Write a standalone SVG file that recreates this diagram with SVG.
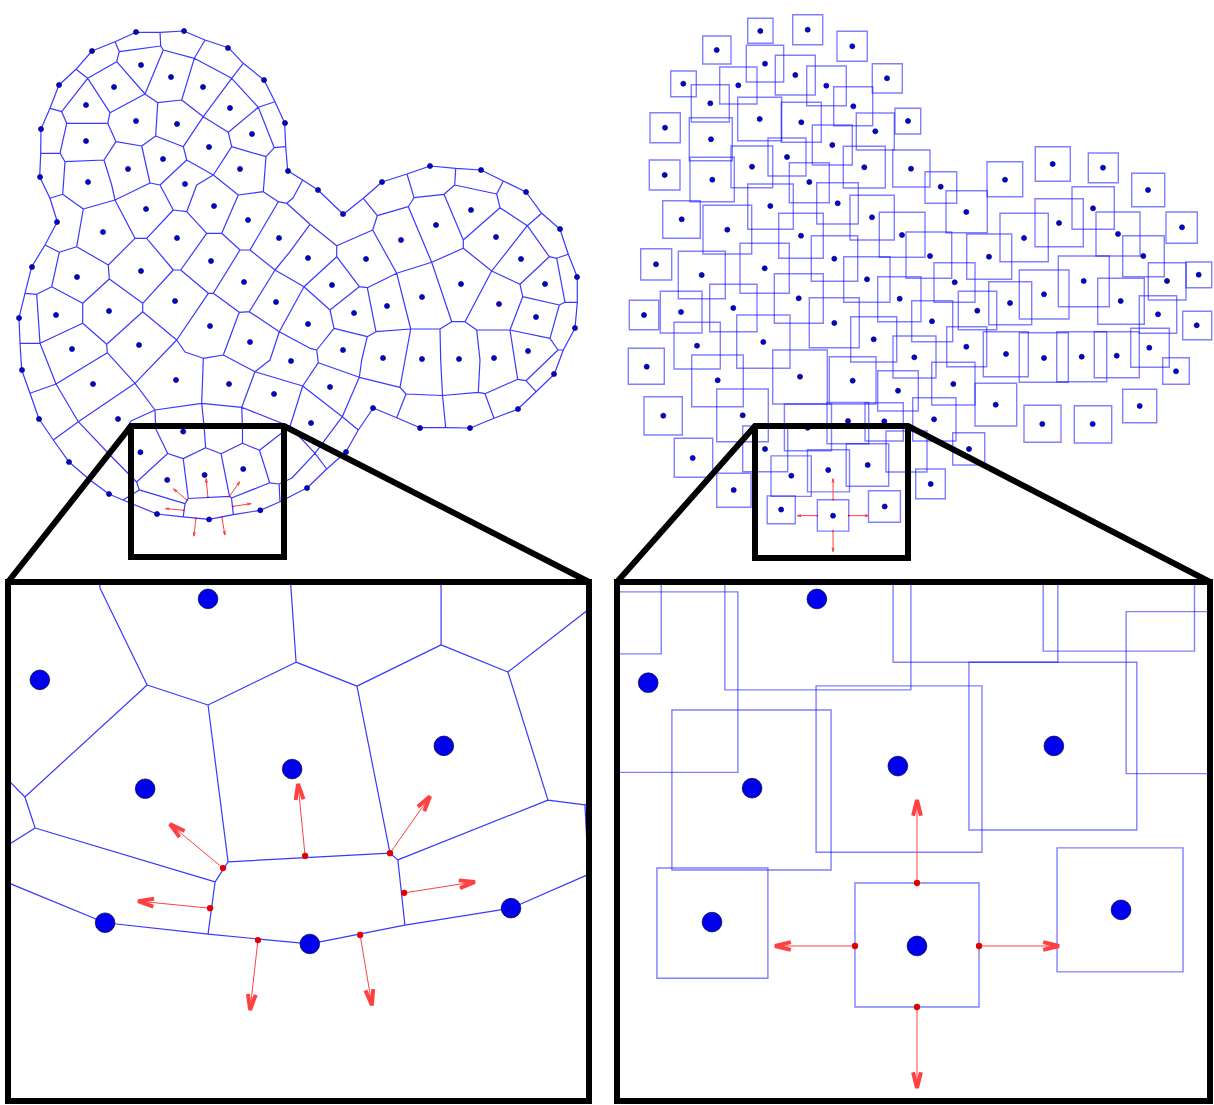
<svg xmlns="http://www.w3.org/2000/svg" xmlns:xlink="http://www.w3.org/1999/xlink" width="1214" height="1105" viewBox="0 0 1214 1105">
<style>
.vl{fill:none;stroke:#3838ff;stroke-width:1.2;stroke-linejoin:round;vector-effect:non-scaling-stroke}
.d{fill:#0000ee;stroke:#00003a;stroke-width:0.7;vector-effect:non-scaling-stroke}
.q{fill:none;stroke:#0000ff;stroke-opacity:0.5;stroke-width:1.4;vector-effect:non-scaling-stroke}
.ra{fill:none;stroke:#ff4040;stroke-width:1;vector-effect:non-scaling-stroke;marker-end:url(#ah)}
.rd{fill:#e00000}
.fr{fill:none;stroke:#000;stroke-width:6;stroke-linejoin:miter}
</style>
<defs>
<marker id="ah" markerUnits="userSpaceOnUse" markerWidth="6" markerHeight="4" refX="4" refY="1" orient="auto" overflow="visible">
<path d="M0,0 L4,1 L0,2" fill="none" stroke="#ff4040" stroke-width="1" vector-effect="non-scaling-stroke"/>
</marker>
<clipPath id="clipL"><rect x="8" y="582" width="581" height="519"/></clipPath>
<clipPath id="clipR"><rect x="617" y="582" width="593" height="519"/></clipPath>
<g id="vorL">
<path class="vl" d="M136 32.3L160 32.3L183.7 31L205 40L228.3 47.7L243.3 63.3L264 80L275 101.7L284.7 123L285.7 146.7L287.7 170.7L302.7 180L318 190L343.3 214.3L363.3 198.3L382 182L407 174L430 166L455.7 168.3L481 170L503.3 181L526 192L541.7 213.3L560 229.3L568.3 254.3L577.3 277.3L577.3 302.3L575 328.3L563.3 350L554.3 374.3L536 391.7L517.7 409.3L494 418.3L470.3 428L445.7 427.7L420 427.7L396.7 417.7L373.3 408L358.3 430L345.7 452.3L326.7 469L307.3 487.7L280 501.7L260.3 510.3L233.3 514.6L209.1 519.4L183.2 516.9L157 514L123 500L109.3 494.3L90 480L68.7 461.7L53.3 440L39 419L30 393.3L21.7 370L20 343.3L19 317.7L25 293.3L31.7 266.7L45 245L57.3 221.7L50 198.3L39.7 177L40.7 153.3L41 129L50 108.3L59 85L76 69.3L92 51L115 41.7Z"/>
<path class="vl" d="M115 41.7L119.3 51.7L160.7 46L160 32.3M160.7 46L163.3 50L194.3 58.3L205 40M194.3 58.3L231.7 78.3L243.3 63.3M231.7 78.3L258.3 107.3L275 101.7M258.3 107.3L274.3 147.7L285.7 146.7M274.3 147.7L266 156.7L263.3 191.7M76 69.3L87.7 78.3L116.7 61.7L119.3 51.7M116.7 61.7L145 94L163.3 50M145 94L157.7 102.7L181.7 100L194.3 58.3M87.7 78.3L110 112.7L145 94M50 108.3L61.7 111.7L87.7 78.3M61.7 111.7L66.7 123.3L107.7 123.3L110 112.7M107.7 123.3L116 141.7L141.7 146L155.7 136L157.7 102.7M155.7 136L183.3 146.7L203.3 116.7L181.7 100M203.3 116.7L231.7 78.3M203.3 116.7L228.3 132.3L258.3 107.3M228.3 132.3L231.7 146.7L266 156.7M183.3 146.7L186.7 160L213.3 175L231.7 146.7M66.7 123.3L60 153.3L40.7 153.3M60 153.3L65 161.7L104 160L116 141.7M141.7 146L150 183L160 185L186.7 160M104 160L111.7 185L115 200L150 183M65 161.7L62.7 194.3L50 198.3M62.7 194.3L83.3 209L115 200L135 238.3L146.7 238.3L173.3 210L186.7 211.7L206.7 233.3L221.7 233.3L238.3 195L263.3 191.7L278.3 201.7L286.7 203.3L310 224.3L336.7 245.7M173.3 210L160 185M186.7 211.7L196.7 185L213.3 175L238.3 195M286.7 203.3L293 198L302.7 180M278.3 201.7L250 250M83.3 209L76.7 246.7L59.3 252.3L45 245M76.7 246.7L108.3 265L135 238.3M108.3 265L109.3 279L82.7 303.3L51.7 286.7L59.3 252.3M51.7 286.7L36.7 294.3L25 293.3M36.7 294.3L40 343.3L20 343.3M40 343.3L82.7 323.3L82.7 303.3M82.7 323.3L106.7 344.3L142.7 311.7L142.7 303.3L109.3 279M142.7 303.3L173.3 270L146.7 238.3M173.3 270L180.7 270L206.7 233.3M180.7 270L208.3 293.3L213.3 293.3L240 250L221.7 233.3M240 250L250 250L275 270L304 286.7M275 270L249.3 311.7L239.3 312.3L213.3 293.3M239.3 312.3L223.3 355M249.3 311.7L279.3 331.7L310 348.3L316.7 350M279.3 331.7L270 360M279.3 331.7L304 286.7M208.3 293.3L176.7 340L142.7 311.7M176.7 340L185 352L203.3 358.3L223.3 355L255 371.7L270 360M106.7 344.3L107.3 352.7M310 224.3L290 251.7L275 270M30 393.3L56 384L40 343.3M56 384L107.3 352.7L135 383.3L176.7 340M135 383.3L78.3 421.7L56 384M78.3 421.7L53.3 440M78.3 421.7L110 455L136.6 482L139.2 489.9L185 503.6M110 455L90 480M139.2 489.9L123 500M110 455L131 421L155 410M135 383.3L155 410L201.7 403.3L203.3 358.3M201.7 403.3L241.7 407.3L255 371.7M255 371.7L302.7 386M155 410L155.7 428.8L167.7 453.5L136.6 482M167.7 453.5L183.2 458.6L205.6 447.7L204.3 428.8L201.7 403.3M205.6 447.7L221.1 453.8L242.5 443.3L242.5 428.8L241.7 407.3M242.5 443.3L259.5 450.2L279.1 435L290 426.5M241.7 407.3L290 426.5L302.7 386M290 426.5L315 453.3L326.7 469M315 453.3L292 478L279.1 484L269.7 482.8L259.5 450.2M221.1 453.8L229.5 496.3L231.5 498L269.7 482.8M231.5 498L233.3 514.6M183.2 458.6L188.3 498.5L229.5 496.3M188.3 498.5L185 503.6L183.2 516.9M279.1 484L280 501.7M302.7 386L318.3 362.7L359.3 377.3L342.3 416.7L302.7 386M342.3 416.7L358.3 430M342.3 416.7L315 453.3M316.7 350L318.3 362.7M367.3 336.7L361.7 360L359.3 377.3M359.3 377.3L400 387.3L406 394L442.5 395.5L478.3 392.3L485 393.7L517.7 379.3L526 380.7L536 391.7M410.7 329L405 360L400 387.3M406 394L396.7 417.7M440 329L440.7 360L442.5 395.5L445.7 427.7M476.7 330L480 360L478.3 392.3M485 393.7L494 418.3M510 330L517.7 379.3M526 380.7L558 350L550 338.3M558 350L563.3 350M407 174L414 197.7L408.3 206.7L377.3 215.7L363.3 198.3M414 197.7L444 194.3L454.7 185L455.7 168.3M454.7 185L496.7 194L503.3 181M496.7 194L500 207.7M444 194.3L463.3 240L463.3 248.3M463.3 240L500 207.7L527.3 225.7L541.7 213.3M527.3 225.7L549.3 256.7L556.7 258.3L568.3 254.3M556.7 258.3L565 302.3L577.3 302.3M565 302.3L559.3 305L550 338.3M549.3 256.7L520 284.3L491.7 271L463.3 248.3M491.7 271L527.3 225.7M520 284.3L522.7 296.7L559.3 305M522.7 296.7L510 330L550 338.3M491.7 271L465 321.7L451.7 321.7L431.7 262.3L463.3 248.3M431.7 262.3L396.7 273.3L372.7 230L377.3 215.7M408.3 206.7L431.7 262.3M372.7 230L336.7 245.7L336.7 256.7L304 286.7M336.7 256.7L359.3 286.7L367.3 287.7L396.7 273.3M367.3 287.7L376 331.7M396.7 273.3L410.7 329L440 329L451.7 321.7M465 321.7L476.7 330L510 330M359.3 286.7L330 310L304 286.7M330 310L334 328.3L316.7 350M334 328.3L367.3 336.7L376 331.7L410.7 329"/>
<g>
<circle class="d" r="2.5" cx="136" cy="32"/><circle class="d" r="2.5" cx="184" cy="31"/><circle class="d" r="2.5" cx="228" cy="48"/><circle class="d" r="2.5" cx="264" cy="80"/><circle class="d" r="2.5" cx="285" cy="123"/><circle class="d" r="2.5" cx="288" cy="171"/><circle class="d" r="2.5" cx="318" cy="190"/><circle class="d" r="2.5" cx="343" cy="214"/><circle class="d" r="2.5" cx="382" cy="182"/><circle class="d" r="2.5" cx="430" cy="166"/><circle class="d" r="2.5" cx="481" cy="170"/><circle class="d" r="2.5" cx="526" cy="192"/><circle class="d" r="2.5" cx="560" cy="229"/><circle class="d" r="2.5" cx="577" cy="277"/><circle class="d" r="2.5" cx="575" cy="328"/><circle class="d" r="2.5" cx="554" cy="374"/><circle class="d" r="2.5" cx="518" cy="409"/><circle class="d" r="2.5" cx="470" cy="428"/><circle class="d" r="2.5" cx="420" cy="428"/><circle class="d" r="2.5" cx="373" cy="408"/><circle class="d" r="2.5" cx="346" cy="452"/><circle class="d" r="2.5" cx="307" cy="488"/><circle class="d" r="2.5" cx="260.3" cy="510.3"/><circle class="d" r="2.5" cx="209.1" cy="519.4"/><circle class="d" r="2.5" cx="157" cy="514"/><circle class="d" r="2.5" cx="109" cy="494"/><circle class="d" r="2.5" cx="69" cy="462"/><circle class="d" r="2.5" cx="39" cy="419"/><circle class="d" r="2.5" cx="22" cy="370"/><circle class="d" r="2.5" cx="19" cy="318"/><circle class="d" r="2.5" cx="32" cy="267"/><circle class="d" r="2.5" cx="57" cy="222"/><circle class="d" r="2.5" cx="40" cy="177"/><circle class="d" r="2.5" cx="41" cy="129"/><circle class="d" r="2.5" cx="59" cy="85"/><circle class="d" r="2.5" cx="92" cy="51"/>
<circle class="d" r="2.5" cx="141" cy="65"/><circle class="d" r="2.5" cx="171" cy="77"/><circle class="d" r="2.5" cx="203" cy="87"/><circle class="d" r="2.5" cx="114" cy="87"/><circle class="d" r="2.5" cx="86" cy="105"/><circle class="d" r="2.5" cx="136" cy="121"/><circle class="d" r="2.5" cx="177" cy="124"/><circle class="d" r="2.5" cx="230" cy="108"/><circle class="d" r="2.5" cx="252" cy="134"/><circle class="d" r="2.5" cx="209" cy="147"/><circle class="d" r="2.5" cx="86" cy="141"/><circle class="d" r="2.5" cx="163" cy="159"/><circle class="d" r="2.5" cx="128" cy="169"/><circle class="d" r="2.5" cx="240" cy="169"/><circle class="d" r="2.5" cx="185" cy="184"/><circle class="d" r="2.5" cx="88" cy="182"/><circle class="d" r="2.5" cx="146" cy="209"/><circle class="d" r="2.5" cx="214" cy="206"/><circle class="d" r="2.5" cx="248" cy="220"/><circle class="d" r="2.5" cx="103" cy="232"/><circle class="d" r="2.5" cx="177" cy="238"/><circle class="d" r="2.5" cx="279" cy="238"/><circle class="d" r="2.5" cx="308" cy="258"/><circle class="d" r="2.5" cx="211" cy="261"/><circle class="d" r="2.5" cx="141" cy="271"/><circle class="d" r="2.5" cx="77" cy="277"/><circle class="d" r="2.5" cx="244" cy="282"/><circle class="d" r="2.5" cx="175" cy="301"/><circle class="d" r="2.5" cx="276" cy="302"/><circle class="d" r="2.5" cx="56" cy="315"/><circle class="d" r="2.5" cx="109" cy="311"/><circle class="d" r="2.5" cx="210" cy="326"/><circle class="d" r="2.5" cx="308" cy="324"/><circle class="d" r="2.5" cx="250" cy="342"/><circle class="d" r="2.5" cx="72" cy="349"/><circle class="d" r="2.5" cx="139" cy="345"/><circle class="d" r="2.5" cx="291" cy="361"/><circle class="d" r="2.5" cx="471" cy="210"/><circle class="d" r="2.5" cx="436" cy="225"/><circle class="d" r="2.5" cx="401" cy="240"/><circle class="d" r="2.5" cx="496" cy="237"/><circle class="d" r="2.5" cx="521" cy="259"/><circle class="d" r="2.5" cx="366" cy="259"/><circle class="d" r="2.5" cx="332" cy="285"/><circle class="d" r="2.5" cx="461" cy="284"/><circle class="d" r="2.5" cx="545" cy="284"/><circle class="d" r="2.5" cx="422" cy="297"/><circle class="d" r="2.5" cx="387" cy="306"/><circle class="d" r="2.5" cx="354" cy="313"/><circle class="d" r="2.5" cx="499" cy="304"/><circle class="d" r="2.5" cx="536" cy="317"/><circle class="d" r="2.5" cx="343" cy="350"/><circle class="d" r="2.5" cx="383" cy="358"/><circle class="d" r="2.5" cx="528" cy="351"/><circle class="d" r="2.5" cx="422" cy="359"/><circle class="d" r="2.5" cx="459" cy="359"/><circle class="d" r="2.5" cx="494" cy="358"/><circle class="d" r="2.5" cx="93" cy="384"/><circle class="d" r="2.5" cx="176" cy="380"/><circle class="d" r="2.5" cx="229" cy="384"/><circle class="d" r="2.5" cx="274" cy="394"/><circle class="d" r="2.5" cx="118" cy="419"/><circle class="d" r="2.5" cx="330" cy="387"/><circle class="d" r="2.5" cx="311" cy="423"/><circle class="d" r="2.5" cx="284" cy="456"/><circle class="d" r="2.5" cx="183.2" cy="431.6"/><circle class="d" r="2.5" cx="140.4" cy="452.2"/><circle class="d" r="2.5" cx="167.2" cy="479.9"/><circle class="d" r="2.5" cx="204.6" cy="474.9"/><circle class="d" r="2.5" cx="243.2" cy="469"/>
</g>
<g>
<path class="ra" d="M187 500.1L173.5 488.9"/><path class="ra" d="M207.9 497L206.1 478.7"/><path class="ra" d="M229.5 496.3L239.7 481.8"/><path class="ra" d="M183.7 510.3L165.4 508.5"/><path class="ra" d="M233.1 506.4L251.1 503.6"/><path class="ra" d="M195.9 518.4L193.9 536.2"/><path class="ra" d="M221.9 517.1L224.9 535"/>
<circle class="rd" r="0.8" cx="187" cy="500.1"/><circle class="rd" r="0.8" cx="207.9" cy="497"/><circle class="rd" r="0.8" cx="229.5" cy="496.3"/><circle class="rd" r="0.8" cx="183.7" cy="510.3"/><circle class="rd" r="0.8" cx="233.1" cy="506.4"/><circle class="rd" r="0.8" cx="195.9" cy="518.4"/><circle class="rd" r="0.8" cx="221.9" cy="517.1"/>
</g>
</g>
<g id="sqR">
<rect class="q" x="747.7" y="18.3" width="25.3" height="25"/><rect class="q" x="792.7" y="14.7" width="30" height="30"/><rect class="q" x="702.7" y="36" width="28.3" height="28"/><rect class="q" x="837" y="31.3" width="30.3" height="30"/><rect class="q" x="746.3" y="45.3" width="37.4" height="36.7"/><rect class="q" x="775.3" y="55.3" width="40" height="39.7"/><rect class="q" x="670.7" y="71" width="25.6" height="25.7"/><rect class="q" x="719.7" y="67" width="37.3" height="37"/><rect class="q" x="806.7" y="66" width="39.6" height="39.7"/><rect class="q" x="872.3" y="63.7" width="30" height="29.3"/><rect class="q" x="691.3" y="84.7" width="38" height="37.3"/><rect class="q" x="833.7" y="86.7" width="39" height="39"/><rect class="q" x="737.7" y="97.3" width="44" height="43.4"/><rect class="q" x="781.3" y="102.3" width="40" height="40"/><rect class="q" x="650" y="112.7" width="30.3" height="30"/><rect class="q" x="895" y="108.3" width="25.7" height="25.7"/><rect class="q" x="856.3" y="113" width="38" height="37"/><rect class="q" x="689.3" y="117.7" width="43" height="43"/><rect class="q" x="812.3" y="125" width="40" height="40"/><rect class="q" x="768" y="138" width="38" height="38"/><rect class="q" x="731" y="146" width="41.7" height="41.7"/><rect class="q" x="843.3" y="146.3" width="42" height="41.7"/><rect class="q" x="649.3" y="160" width="30.7" height="30"/><rect class="q" x="690" y="157.3" width="44.3" height="44.4"/><rect class="q" x="789.3" y="162.7" width="40" height="40"/><rect class="q" x="892.7" y="150" width="37.3" height="37"/><rect class="q" x="1035.3" y="146.7" width="35" height="34.6"/><rect class="q" x="1088.3" y="153" width="30" height="29.7"/><rect class="q" x="987" y="161.7" width="35.7" height="35"/><rect class="q" x="1131.7" y="173.3" width="33" height="33.4"/><rect class="q" x="925" y="171.7" width="31.7" height="31.6"/><rect class="q" x="662.7" y="200.7" width="37.6" height="37.6"/><rect class="q" x="703" y="205.3" width="48.7" height="48.7"/><rect class="q" x="747.7" y="184" width="45.6" height="45.3"/><rect class="q" x="816.7" y="182.7" width="41.6" height="41.3"/><rect class="q" x="850" y="195.3" width="44.3" height="44.7"/><rect class="q" x="778.7" y="213.3" width="44.6" height="45"/><rect class="q" x="879.3" y="212.3" width="45.7" height="45"/><rect class="q" x="640.7" y="248.7" width="31" height="31.3"/><rect class="q" x="678.3" y="251.3" width="47" height="47.4"/><rect class="q" x="740" y="243.3" width="49.3" height="50"/><rect class="q" x="811.3" y="235.7" width="46.4" height="45.6"/><rect class="q" x="843.7" y="256.7" width="46.3" height="45.6"/><rect class="q" x="877.7" y="276.7" width="43.3" height="45"/><rect class="q" x="629.3" y="300.3" width="29.4" height="29.4"/><rect class="q" x="660.3" y="291.3" width="41.7" height="41.7"/><rect class="q" x="709.7" y="284.3" width="47.3" height="47.4"/><rect class="q" x="774.3" y="273.7" width="49" height="49.6"/><rect class="q" x="809.3" y="297.7" width="50" height="50"/><rect class="q" x="850.7" y="316.7" width="46" height="45.3"/><rect class="q" x="674" y="322.3" width="46.3" height="46.7"/><rect class="q" x="736.7" y="315" width="53.3" height="53.3"/><rect class="q" x="628.3" y="348.3" width="36" height="36"/><rect class="q" x="946" y="190.7" width="41.3" height="42"/><rect class="q" x="1072" y="186.7" width="42.3" height="42.6"/><rect class="q" x="1035" y="198.7" width="48.3" height="48"/><rect class="q" x="1000" y="213.3" width="48.3" height="48.4"/><rect class="q" x="1166" y="212" width="31.3" height="31.3"/><rect class="q" x="1096" y="212" width="44" height="44"/><rect class="q" x="906" y="232" width="45.7" height="46.3"/><rect class="q" x="966.7" y="234" width="45" height="45.3"/><rect class="q" x="1122.7" y="235.7" width="41.6" height="41"/><rect class="q" x="1058.3" y="256" width="51" height="50.7"/><rect class="q" x="934" y="262.7" width="41" height="39.6"/><rect class="q" x="1019.3" y="270" width="49.7" height="49"/><rect class="q" x="1148.3" y="262.7" width="37.7" height="37.3"/><rect class="q" x="1186" y="262" width="25.7" height="25.7"/><rect class="q" x="988.7" y="281.7" width="43" height="43"/><rect class="q" x="1097.7" y="278.3" width="46.6" height="46"/><rect class="q" x="958.3" y="291.3" width="38.4" height="38.4"/><rect class="q" x="911.7" y="300.7" width="41" height="41"/><rect class="q" x="1139.3" y="295.7" width="37.4" height="37.6"/><rect class="q" x="1182.7" y="311.3" width="29" height="28.4"/><rect class="q" x="946.7" y="326.7" width="40" height="40"/><rect class="q" x="983.3" y="331.7" width="45" height="45"/><rect class="q" x="1019.3" y="332.7" width="49" height="49.6"/><rect class="q" x="1056.7" y="331.7" width="50" height="50"/><rect class="q" x="1094.3" y="331.7" width="45" height="46"/><rect class="q" x="1130.7" y="328.3" width="38.6" height="39"/><rect class="q" x="1162.7" y="357.7" width="26.6" height="26.6"/><rect class="q" x="931.7" y="362.3" width="43.3" height="42.7"/><rect class="q" x="975" y="383.3" width="41.7" height="42.7"/><rect class="q" x="1024" y="405.3" width="37" height="37"/><rect class="q" x="1074.3" y="405.7" width="37.4" height="37.3"/><rect class="q" x="1122.7" y="389.3" width="34" height="33.4"/><rect class="q" x="912.7" y="397.7" width="43.3" height="43.3"/><rect class="q" x="952.7" y="432.7" width="32" height="32.3"/><rect class="q" x="915.7" y="469" width="29.6" height="29.7"/><rect class="q" x="893" y="336" width="43" height="42"/><rect class="q" x="691.7" y="355" width="51.6" height="51.7"/><rect class="q" x="644" y="396.7" width="38.3" height="38.3"/><rect class="q" x="716.7" y="389" width="51.6" height="52.7"/><rect class="q" x="772.7" y="350" width="54.6" height="54"/><rect class="q" x="829.3" y="356.7" width="46.7" height="47.3"/><rect class="q" x="877.7" y="370.7" width="40.6" height="40.3"/><rect class="q" x="674.3" y="438.3" width="38.4" height="39"/><rect class="q" x="742.7" y="426" width="45" height="45.7"/><rect class="q" x="784.4" y="404" width="47.1" height="46.8"/><rect class="q" x="827" y="402.5" width="41.7" height="41.3"/><rect class="q" x="865" y="402.7" width="38.3" height="38.3"/><rect class="q" x="716.7" y="473.3" width="34.3" height="34"/><rect class="q" x="771" y="455.9" width="40.3" height="40.5"/><rect class="q" x="807.5" y="449.8" width="42" height="42.1"/><rect class="q" x="846.2" y="443.8" width="42.5" height="42.5"/><rect class="q" x="767.2" y="495.9" width="28.1" height="27.9"/><rect class="q" x="817.35" y="499.7" width="31.4" height="31.4"/><rect class="q" x="868.5" y="490.8" width="31.9" height="31.4"/><rect class="q" x="886" y="431" width="41" height="41"/>
<circle class="d" r="2.5" cx="760.3" cy="31"/><circle class="d" r="2.5" cx="807.7" cy="29.7"/><circle class="d" r="2.5" cx="716.7" cy="50"/><circle class="d" r="2.5" cx="852.3" cy="46.3"/><circle class="d" r="2.5" cx="765" cy="63.7"/><circle class="d" r="2.5" cx="795.3" cy="75"/><circle class="d" r="2.5" cx="683.3" cy="83.7"/><circle class="d" r="2.5" cx="738.3" cy="85.3"/><circle class="d" r="2.5" cx="826.3" cy="85.7"/><circle class="d" r="2.5" cx="887" cy="78.3"/><circle class="d" r="2.5" cx="710.3" cy="103.3"/><circle class="d" r="2.5" cx="853.3" cy="106.3"/><circle class="d" r="2.5" cx="759.7" cy="119"/><circle class="d" r="2.5" cx="801.3" cy="122.3"/><circle class="d" r="2.5" cx="665" cy="127.7"/><circle class="d" r="2.5" cx="908" cy="121"/><circle class="d" r="2.5" cx="875.3" cy="131.3"/><circle class="d" r="2.5" cx="711" cy="139.3"/><circle class="d" r="2.5" cx="832.3" cy="145"/><circle class="d" r="2.5" cx="787" cy="157"/><circle class="d" r="2.5" cx="752" cy="166.7"/><circle class="d" r="2.5" cx="864.3" cy="167.3"/><circle class="d" r="2.5" cx="664.7" cy="175"/><circle class="d" r="2.5" cx="712.3" cy="179.7"/><circle class="d" r="2.5" cx="809.3" cy="182"/><circle class="d" r="2.5" cx="911" cy="168.7"/><circle class="d" r="2.5" cx="1052.7" cy="164"/><circle class="d" r="2.5" cx="1103" cy="167.7"/><circle class="d" r="2.5" cx="1005" cy="179.7"/><circle class="d" r="2.5" cx="1148" cy="190"/><circle class="d" r="2.5" cx="940.7" cy="186.7"/><circle class="d" r="2.5" cx="681.7" cy="219.3"/><circle class="d" r="2.5" cx="727.3" cy="229.7"/><circle class="d" r="2.5" cx="770.3" cy="206"/><circle class="d" r="2.5" cx="837.7" cy="203.3"/><circle class="d" r="2.5" cx="872" cy="217.3"/><circle class="d" r="2.5" cx="801" cy="235.7"/><circle class="d" r="2.5" cx="902" cy="235"/><circle class="d" r="2.5" cx="656" cy="264.3"/><circle class="d" r="2.5" cx="701.7" cy="275"/><circle class="d" r="2.5" cx="764.7" cy="268.3"/><circle class="d" r="2.5" cx="834.3" cy="258.7"/><circle class="d" r="2.5" cx="867" cy="279.3"/><circle class="d" r="2.5" cx="899.7" cy="298.7"/><circle class="d" r="2.5" cx="644" cy="315"/><circle class="d" r="2.5" cx="681" cy="312"/><circle class="d" r="2.5" cx="733.3" cy="308"/><circle class="d" r="2.5" cx="798.7" cy="298.3"/><circle class="d" r="2.5" cx="834.3" cy="323"/><circle class="d" r="2.5" cx="873.7" cy="339.3"/><circle class="d" r="2.5" cx="697" cy="345.7"/><circle class="d" r="2.5" cx="763.3" cy="342"/><circle class="d" r="2.5" cx="646.7" cy="366.7"/><circle class="d" r="2.5" cx="966.3" cy="212"/><circle class="d" r="2.5" cx="1093" cy="208.3"/><circle class="d" r="2.5" cx="1059" cy="223"/><circle class="d" r="2.5" cx="1024" cy="238"/><circle class="d" r="2.5" cx="1182" cy="227.3"/><circle class="d" r="2.5" cx="1118" cy="234"/><circle class="d" r="2.5" cx="930" cy="256"/><circle class="d" r="2.5" cx="989" cy="256.7"/><circle class="d" r="2.5" cx="1143.3" cy="256"/><circle class="d" r="2.5" cx="1083.7" cy="281"/><circle class="d" r="2.5" cx="954.7" cy="282.3"/><circle class="d" r="2.5" cx="1044" cy="294.3"/><circle class="d" r="2.5" cx="1167" cy="281"/><circle class="d" r="2.5" cx="1198.7" cy="274.7"/><circle class="d" r="2.5" cx="1010" cy="303"/><circle class="d" r="2.5" cx="1120.7" cy="301"/><circle class="d" r="2.5" cx="977.3" cy="310.7"/><circle class="d" r="2.5" cx="932" cy="321.3"/><circle class="d" r="2.5" cx="1158" cy="314.3"/><circle class="d" r="2.5" cx="1196.7" cy="325.3"/><circle class="d" r="2.5" cx="966.3" cy="346.7"/><circle class="d" r="2.5" cx="1006" cy="354"/><circle class="d" r="2.5" cx="1044" cy="358"/><circle class="d" r="2.5" cx="1081.7" cy="356.7"/><circle class="d" r="2.5" cx="1116.7" cy="355.7"/><circle class="d" r="2.5" cx="1149.3" cy="347.7"/><circle class="d" r="2.5" cx="1176" cy="371.3"/><circle class="d" r="2.5" cx="953.3" cy="384"/><circle class="d" r="2.5" cx="995.7" cy="404.7"/><circle class="d" r="2.5" cx="1042.3" cy="424"/><circle class="d" r="2.5" cx="1092.7" cy="424"/><circle class="d" r="2.5" cx="1139.7" cy="406"/><circle class="d" r="2.5" cx="934" cy="419.3"/><circle class="d" r="2.5" cx="969" cy="449"/><circle class="d" r="2.5" cx="930.7" cy="484"/><circle class="d" r="2.5" cx="914.3" cy="357.3"/><circle class="d" r="2.5" cx="717.7" cy="380.3"/><circle class="d" r="2.5" cx="663.3" cy="415.7"/><circle class="d" r="2.5" cx="742.7" cy="415.3"/><circle class="d" r="2.5" cx="800" cy="376.7"/><circle class="d" r="2.5" cx="852.7" cy="380.7"/><circle class="d" r="2.5" cx="898" cy="390.7"/><circle class="d" r="2.5" cx="692.7" cy="458"/><circle class="d" r="2.5" cx="765" cy="449"/><circle class="d" r="2.5" cx="807.7" cy="427.8"/><circle class="d" r="2.5" cx="848" cy="421"/><circle class="d" r="2.5" cx="884.3" cy="421.3"/><circle class="d" r="2.5" cx="733.7" cy="490"/><circle class="d" r="2.5" cx="791.3" cy="475.7"/><circle class="d" r="2.5" cx="828.2" cy="470.1"/><circle class="d" r="2.5" cx="867.7" cy="465"/><circle class="d" r="2.5" cx="781.15" cy="509.6"/><circle class="d" r="2.5" cx="833.05" cy="515.65"/><circle class="d" r="2.5" cx="884.7" cy="506.5"/>
<path class="ra" d="M817.35 515.65L797.1 515.65"/><path class="ra" d="M848.75 515.65L869 515.65"/><path class="ra" d="M833.05 499.7L833.05 478.7"/><path class="ra" d="M833.05 531.1L833.05 551.6"/>
<circle class="rd" r="0.8" cx="817.35" cy="515.65"/><circle class="rd" r="0.8" cx="848.75" cy="515.65"/><circle class="rd" r="0.8" cx="833.05" cy="499.7"/><circle class="rd" r="0.8" cx="833.05" cy="531.1"/>
</g>
</defs>
<rect width="1214" height="1105" fill="#fff"/>
<g id="voronoi-panel">
<use xlink:href="#vorL"/>
<g clip-path="url(#clipL)"><use xlink:href="#vorL" transform="translate(8,582) scale(3.93) translate(-132.3,-427.3)"/></g>
</g>
<g id="squares-panel">
<use xlink:href="#sqR"/>
<g clip-path="url(#clipR)"><use xlink:href="#sqR" transform="translate(617,582) scale(3.95) translate(-757.1,-423.5)"/></g>
</g>
<g id="frames">
<path class="fr" d="M8 582L131 426L284 426L589 582M131 426L131 557L284 557L284 426"/>
<rect class="fr" x="8" y="582" width="581" height="519"/>
<path class="fr" d="M617 582L755 426L908 426L1210 582M755 426L755 558L908 558L908 426"/>
<rect class="fr" x="617" y="582" width="593" height="519"/>
</g>
</svg>
